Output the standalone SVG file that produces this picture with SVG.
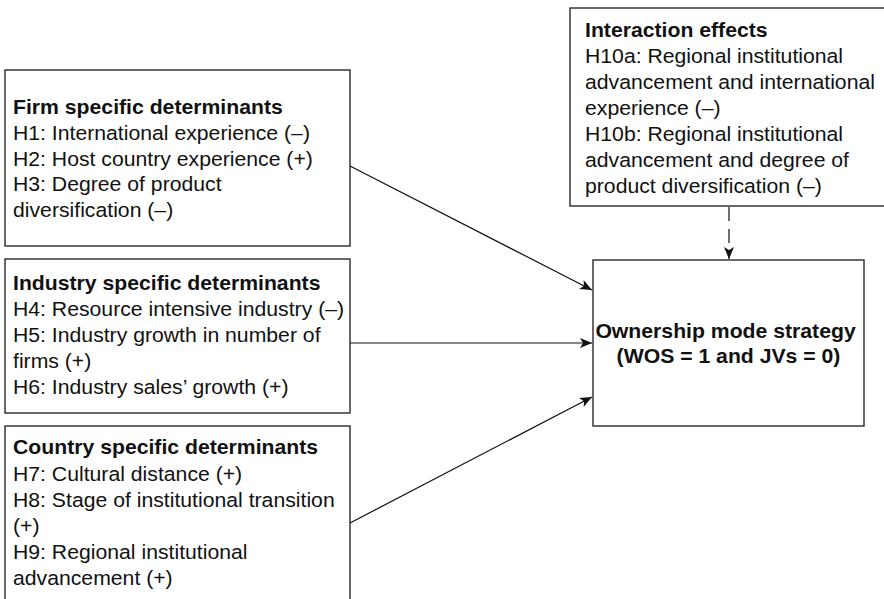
<svg xmlns="http://www.w3.org/2000/svg" width="884" height="599" viewBox="0 0 884 599">
  <style>
    .box { fill: #ffffff; stroke: #1a1a1a; stroke-width: 1.3; }
    .txt { font-family: "Liberation Sans", Arial, sans-serif; font-size: 19.5px; fill: #111111; }
    .hd { font-weight: bold; }
    .link { fill: none; stroke: #111111; stroke-width: 1.2; }
    .dash { stroke-dasharray: 14 8; }
  </style>
  <defs>
    <marker id="arrow" viewBox="0 0 12 10" refX="12" refY="5" markerWidth="12" markerHeight="10" markerUnits="userSpaceOnUse" orient="auto">
      <path d="M0,0 L12,5 L0,10 L3,5 Z" fill="#111111"/>
    </marker>
  </defs>
  <rect width="884" height="599" fill="#ffffff"/>

  <!-- text blocks are widened slightly (x-scale 1.088 about their left/centre anchor) -->
  <g id="firm">
    <rect class="box" x="5" y="70" width="345" height="176"/>
    <text class="txt" x="13" y="114" transform="matrix(1.088 0 0 1 -1.144 0)">
      <tspan class="hd" x="13">Firm specific determinants</tspan>
      <tspan x="13" y="140">H1: International experience (–)</tspan>
      <tspan x="13" y="166">H2: Host country experience (+)</tspan>
      <tspan x="13" y="191">H3: Degree of product</tspan>
      <tspan x="13" y="217">diversification (–)</tspan>
    </text>
  </g>

  <g id="industry">
    <rect class="box" x="5" y="259" width="345" height="154"/>
    <text class="txt" x="13" y="290" transform="matrix(1.088 0 0 1 -1.144 0)">
      <tspan class="hd" x="13">Industry specific determinants</tspan>
      <tspan x="13" y="316">H4: Resource intensive industry (–)</tspan>
      <tspan x="13" y="342">H5: Industry growth in number of</tspan>
      <tspan x="13" y="368">firms (+)</tspan>
      <tspan x="13" y="394">H6: Industry sales’ growth (+)</tspan>
    </text>
  </g>

  <g id="country">
    <rect class="box" x="5" y="426" width="345" height="190"/>
    <text class="txt" x="13" y="454" transform="matrix(1.088 0 0 1 -1.144 0)">
      <tspan class="hd" x="13">Country specific determinants</tspan>
      <tspan x="13" y="481">H7: Cultural distance (+)</tspan>
      <tspan x="13" y="507">H8: Stage of institutional transition</tspan>
      <tspan x="13" y="533">(+)</tspan>
      <tspan x="13" y="559">H9: Regional institutional</tspan>
      <tspan x="13" y="585">advancement (+)</tspan>
    </text>
  </g>

  <g id="interaction">
    <rect class="box" x="570" y="8" width="330" height="198"/>
    <text class="txt" x="585" y="37" transform="matrix(1.088 0 0 1 -51.48 0)">
      <tspan class="hd" x="585">Interaction effects</tspan>
      <tspan x="585" y="63">H10a: Regional institutional</tspan>
      <tspan x="585" y="89">advancement and international</tspan>
      <tspan x="585" y="115">experience (–)</tspan>
      <tspan x="585" y="141">H10b: Regional institutional</tspan>
      <tspan x="585" y="167">advancement and degree of</tspan>
      <tspan x="585" y="193">product diversification (–)</tspan>
    </text>
  </g>

  <g id="outcome">
    <rect class="box" x="593" y="260" width="271" height="166"/>
    <text class="txt hd" x="728.5" y="338" text-anchor="middle" transform="matrix(1.088 0 0 1 -64.108 0)">
      <tspan x="728.5">Ownership mode strategy</tspan>
      <tspan x="728.5" y="363">(WOS = 1 and JVs = 0)</tspan>
    </text>
  </g>

  <g id="connectors">
    <line class="link" x1="350" y1="166" x2="592" y2="290" marker-end="url(#arrow)"/>
    <line class="link" x1="350" y1="343" x2="592" y2="343" marker-end="url(#arrow)"/>
    <line class="link" x1="350" y1="523" x2="592" y2="397" marker-end="url(#arrow)"/>
    <line class="link dash" x1="729" y1="207" x2="729" y2="259" marker-end="url(#arrow)"/>
  </g>
</svg>
